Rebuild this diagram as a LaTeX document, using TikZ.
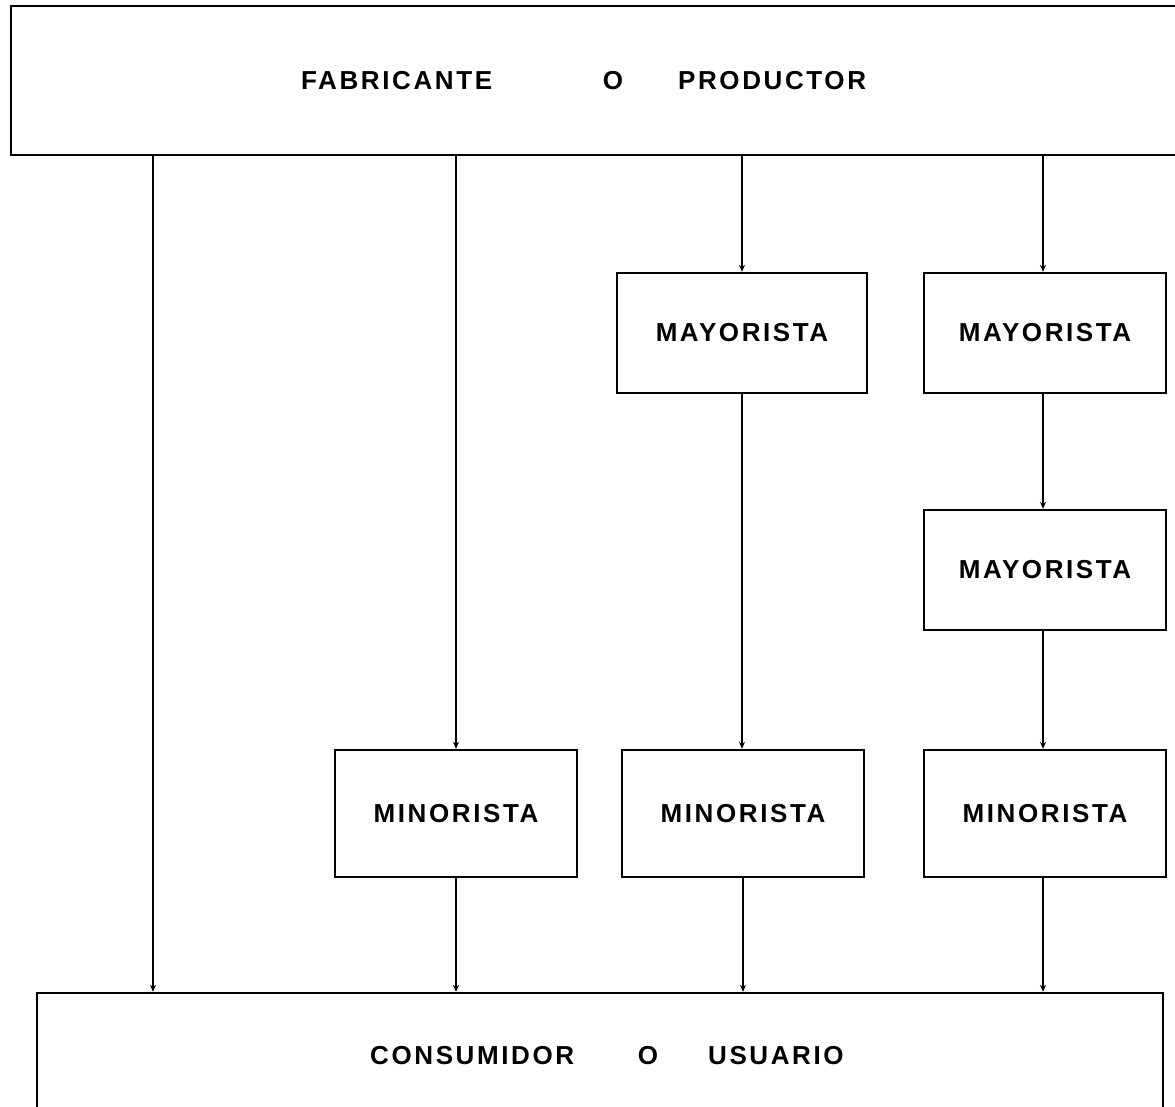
\documentclass[tikz,border=0pt]{standalone}
\usepackage{fontspec}
\setmainfont[LetterSpace=10]{Liberation Sans}
\usetikzlibrary{arrows.meta}
\tikzset{
  box/.style={draw, rectangle, line width=2.4pt, inner sep=0pt, minimum width=242pt, minimum height=120pt,
    font=\fontsize{26}{30}\selectfont\bfseries},
  bigbox/.style={draw, rectangle, line width=2.4pt, inner sep=0pt},
  lbl/.style={inner sep=0pt, font=\fontsize{26}{30}\selectfont\bfseries},
  conn/.style={line width=1.8pt, -{Stealth[length=7pt,width=6pt]}}
}
\begin{document}
\begin{tikzpicture}[x=1pt,y=-1pt]
\clip (0,0) rectangle (1175,1107);
\useasboundingbox (0,0) rectangle (1175,1107);
% big boxes
\node[bigbox, minimum width=1189pt, minimum height=149pt] (top) at (605.5,80.5) {};
\node[lbl, anchor=west] (t1) at (301,81) {FABRICANTE};
\node[lbl] (t2) at (613,81) {O};
\node[lbl, anchor=west] (t3) at (678,81) {PRODUCTOR};
\node[bigbox, minimum width=1126pt, minimum height=137pt] (bot) at (600,1061.5) {};
\node[lbl, anchor=west] (b1) at (370,1056) {CONSUMIDOR};
\node[lbl] (b2) at (648,1056) {O};
\node[lbl, anchor=west] (b3) at (708,1056) {USUARIO};
% intermediary boxes
\node[box, minimum width=250pt] (may1) at (742,333) {MAYORISTA};
\node[box] (may2) at (1045,333) {MAYORISTA};
\node[box] (may3) at (1045,570) {MAYORISTA};
\node[box, minimum height=127pt] (min1) at (456,813.5) {MINORISTA};
\node[box, minimum height=127pt] (min2) at (743,813.5) {MINORISTA};
\node[box, minimum height=127pt] (min3) at (1045,813.5) {MINORISTA};
% connectors
\coordinate (c1) at (153,0);
\coordinate (c4) at (1043,0);
\draw[conn] (top.south -| c1) -- (bot.north -| c1);
\draw[conn] (top.south -| min1.north) -- (min1.north);
\draw[conn] (top.south -| may1.north) -- (may1.north);
\draw[conn] (top.south -| c4) -- (may2.north -| c4);
\draw[conn] (may1.south) -- (min2.north -| may1.south);
\draw[conn] (may2.south -| c4) -- (may3.north -| c4);
\draw[conn] (may3.south -| c4) -- (min3.north -| c4);
\draw[conn] (min1.south) -- (bot.north -| min1.south);
\draw[conn] (min2.south) -- (bot.north -| min2.south);
\draw[conn] (min3.south -| c4) -- (bot.north -| c4);
\end{tikzpicture}
\end{document}
